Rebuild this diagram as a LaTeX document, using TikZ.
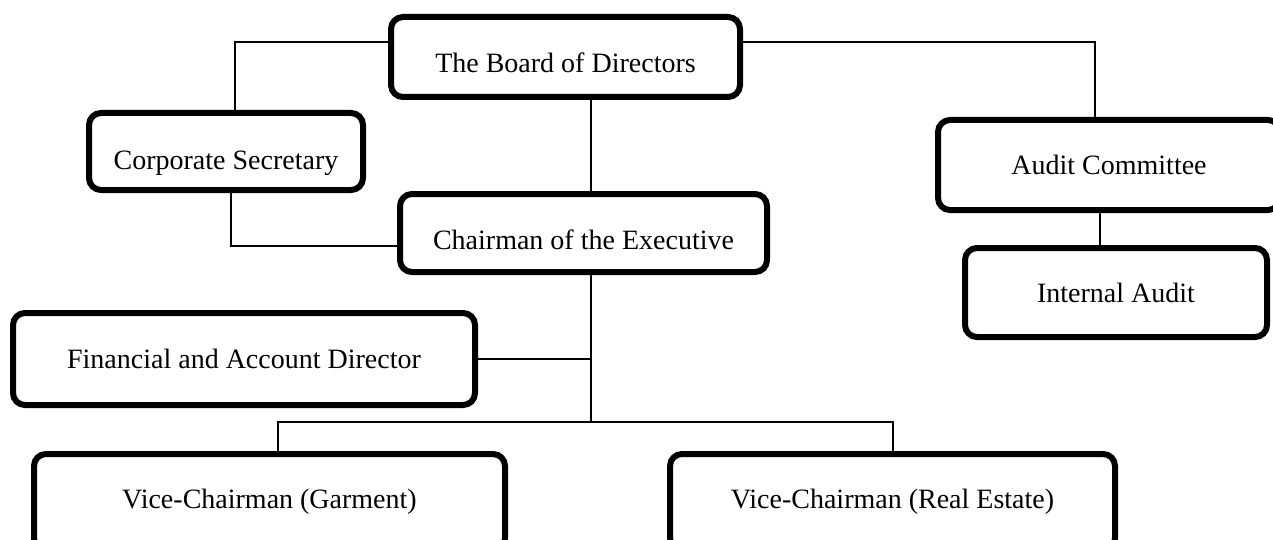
\documentclass[tikz,border=0pt]{standalone}
\usepackage{fontspec}
\setmainfont{Liberation Serif}
\usetikzlibrary{positioning}
\tikzset{
  every node/.style={font=\fontsize{14}{16}\selectfont},
}
\tikzstyle{unit}=[draw,line width=3pt,rounded corners=6pt,inner sep=0pt,align=center]
\tikzstyle{link}=[line width=1pt]
\tikzstyle{low}=[text height=16pt,text depth=0pt]

\begin{document}
\begin{tikzpicture}[x=0.5pt,y=-0.5pt]
    \useasboundingbox (0,0) rectangle (1273,540);
    % boxes
    \node[unit,low,minimum width=174.5pt,minimum height=40pt] (board) at (565.5,57) {The Board of Directors};
    \node[unit,text height=18pt,text depth=0pt,minimum width=137pt,minimum height=38.5pt] (secretary) at (226,151.5) {Corporate Secretary};
    \node[unit,low,minimum width=183.5pt,minimum height=39pt] (chairman) at (583.5,233) {Chairman of the Executive};
    \node[unit,minimum width=171pt,minimum height=45pt] (committee) at (1109,165) {Audit Committee};
    \node[unit,minimum width=151pt,minimum height=44.5pt] (internal) at (1116,292.5) {Internal Audit};
    \node[unit,minimum width=231pt,minimum height=46pt] (finance) at (244,359) {Financial and Account Director};
    \node[unit,minimum width=235.5pt,minimum height=48pt] (garment) at (269.5,502) {Vice-Chairman (Garment)};
    \node[unit,minimum width=222.5pt,minimum height=48pt] (estate) at (892.5,502) {Vice-Chairman (Real Estate)};
    % corners of the lines
    \coordinate (topleft) at (235,42);
    \coordinate (topright) at (1095,42);
    \coordinate (secjoin) at (231,246);
    \coordinate (auditjoin) at (1100,230);
    \coordinate (hub) at (591,422);
    \coordinate (garmentjoin) at (278,422);
    \coordinate (estatejoin) at (893,422);
    % lines
    \draw[link] (board.west |- topleft) -- (topleft) -- (secretary.north -| topleft);
    \draw[link] (board.east |- topright) -- (topright) -- (committee.north -| topright);
    \draw[link] (board.south -| hub) -- (chairman.north -| hub);
    \draw[link] (secretary.south -| secjoin) -- (secjoin) -- (chairman.west |- secjoin);
    \draw[link] (committee.south -| auditjoin) -- (internal.north -| auditjoin);
    \draw[link] (chairman.south -| hub) -- (hub);
    \draw[link] (finance.east) -- (finance.east -| hub);
    \draw[link] (garment.north -| garmentjoin) -- (garmentjoin) -- (estatejoin) -- (estate.north -| estatejoin);
  \end{tikzpicture}
\end{document}
